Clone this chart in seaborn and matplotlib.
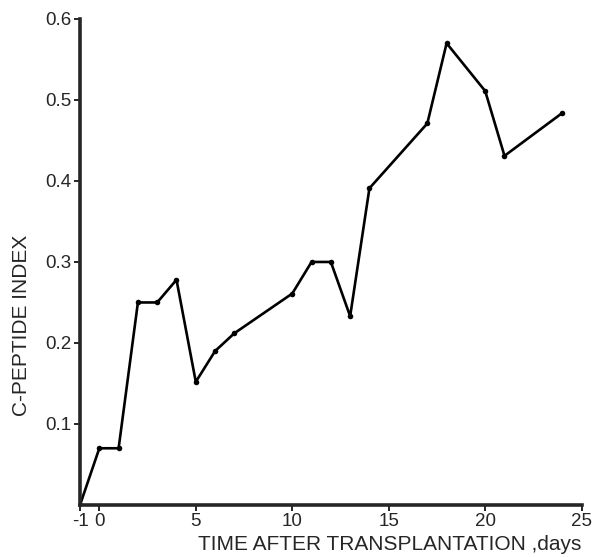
import matplotlib
matplotlib.use("Agg")
import matplotlib.pyplot as plt
import seaborn as sns
import pandas as pd

days = [-1, 0, 1, 2, 3, 4, 5, 6, 7, 10, 11, 12, 13, 14, 17, 18, 20, 21, 24]
cpep = [0.0, 0.07, 0.07, 0.25, 0.25, 0.278, 0.152, 0.19, 0.212, 0.261, 0.30, 0.30,
        0.233, 0.391, 0.471, 0.570, 0.511, 0.431, 0.484]
xticks = [-1, 0, 5, 10, 15, 20, 25]
yticks = [0.1, 0.2, 0.3, 0.4, 0.5, 0.6]

sns.set_style("ticks")
plt.rcParams["font.family"] = ["Liberation Sans", "DejaVu Sans"]

df = pd.DataFrame({"day": days, "cpep": cpep})
fig = plt.figure(figsize=(5.95, 5.57), dpi=100)
ax = fig.add_axes([0.1345, 0.0934, 0.8431, 0.8726])
sns.lineplot(data=df, x="day", y="cpep", ax=ax, color="black", linewidth=1.9,
             marker="o", markersize=4, markeredgewidth=0)

ax.set_xlim(-1, 25)
ax.set_ylim(0, 0.6)
ax.set_xticks(xticks)
ax.set_xticklabels([str(t) for t in xticks])
ax.set_yticks(yticks)
ax.set_yticklabels([f"{t:.1f}" for t in yticks])
ax.tick_params(labelsize=13.5, length=4, width=1.2, color="black", pad=2)
sns.despine(ax=ax)
for s in ["left", "bottom"]:
    ax.spines[s].set_linewidth(2.6)

ax.set_xlabel("TIME AFTER TRANSPLANTATION ,days", fontsize=15, ha="right")
ax.xaxis.set_label_coords(1.0, -0.062)
ax.set_ylabel("C-PEPTIDE INDEX", fontsize=15)
ax.yaxis.set_label_coords(-0.097, 0.37)

fig.savefig("out.png", dpi=100)
